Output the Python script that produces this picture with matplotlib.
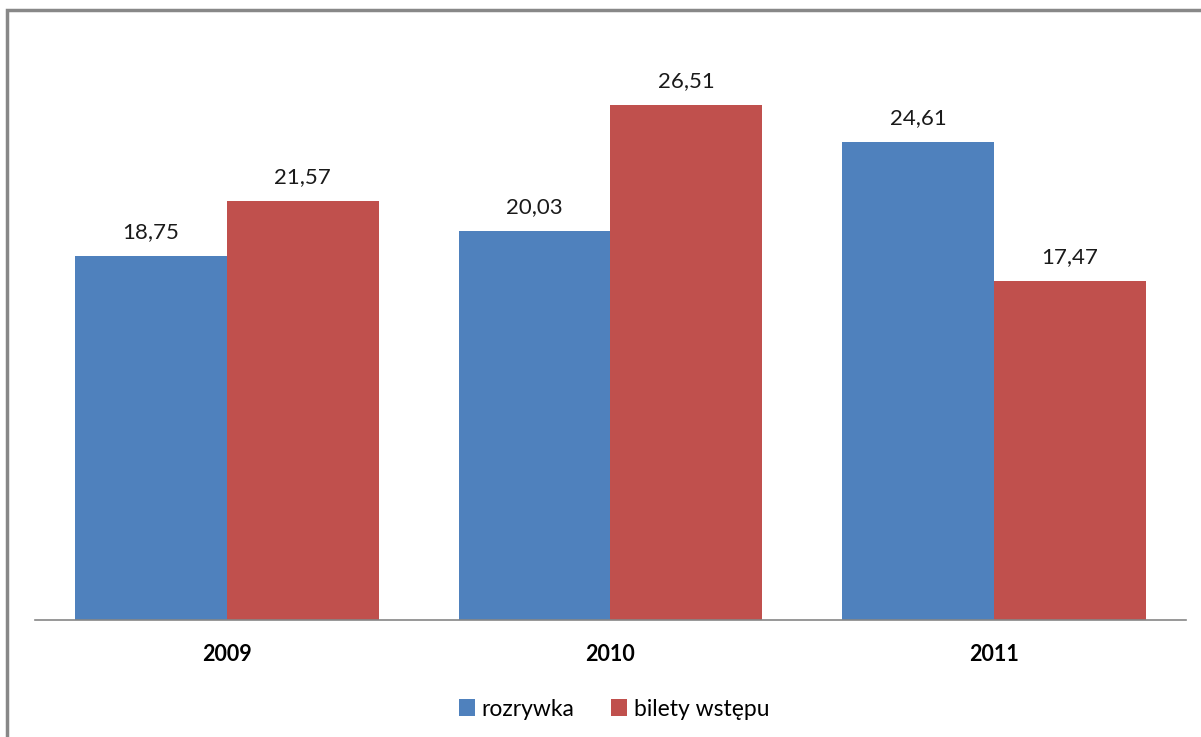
import matplotlib.pyplot as plt
import numpy as np
from matplotlib.patches import Rectangle

lata = ['2009', '2010', '2011']
rozrywka = [18.75, 20.03, 24.61]
bilety = [21.57, 26.51, 17.47]

plt.rcParams['font.family'] = ['Lato', 'DejaVu Sans']

fig = plt.figure(figsize=(12.01, 7.37), dpi=100)
ax = fig.add_axes([35 / 1201, 1 - 620 / 737, 1151 / 1201, 590 / 737])

x = np.arange(len(lata))
w = 0.396
b1 = ax.bar(x - w / 2, rozrywka, w, color='#4F81BD', label='rozrywka')
b2 = ax.bar(x + w / 2, bilety, w, color='#C0504D', label='bilety wstępu')

for bars, vals in ((b1, rozrywka), (b2, bilety)):
    for r, v in zip(bars, vals):
        ax.annotate(f'{v:.2f}'.replace('.', ','), (r.get_x() + r.get_width() / 2, v),
                    xytext=(0, 13), textcoords='offset points', ha='center', va='baseline',
                    fontsize=16, color='#1a1a1a')

ax.set_xlim(-0.5, 2.5)
ax.set_ylim(0, 590 / 19.42)
ax.set_xticks(x)
ax.set_xticklabels(lata, fontsize=15.5, fontweight='bold')
ax.tick_params(axis='x', length=0, pad=17)
ax.set_yticks([])
for s in ['top', 'right', 'left']:
    ax.spines[s].set_visible(False)
ax.spines['bottom'].set_color('#868686')
ax.spines['bottom'].set_linewidth(1.2)

fig.legend(loc='center', bbox_to_anchor=(614 / 1201, 1 - 709 / 737), ncol=2, frameon=False,
           fontsize=16.5, handlelength=0.7, handleheight=0.7, handletextpad=0.3,
           columnspacing=1.6)

# ramka wykresu
fig.patches.append(Rectangle((7 / 1201, -0.05), 1.1, 1 - 10 / 737 + 0.05,
                             transform=fig.transFigure, fill=False,
                             edgecolor='#888888', linewidth=2.5))

fig.savefig('out.png', dpi=100)
